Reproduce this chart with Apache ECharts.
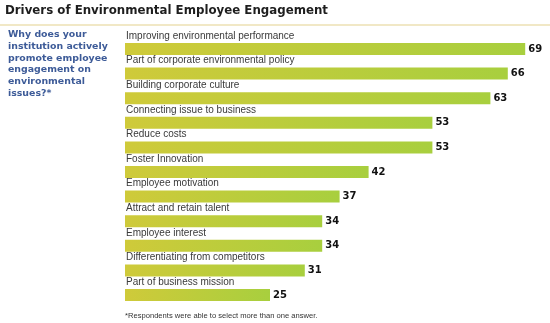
<!DOCTYPE html>
<html><head><meta charset="utf-8">
<script src="https://cdn.jsdelivr.net/npm/echarts@6/dist/echarts.min.js"></script>
<style>html,body{margin:0;padding:0;background:#fff}#c{width:550px;height:323px}</style>
</head><body><div id="c"></div>
<script>
const categories = [
  "Improving environmental performance",
  "Part of corporate environmental policy",
  "Building corporate culture",
  "Connecting issue to business",
  "Reduce costs",
  "Foster Innovation",
  "Employee motivation",
  "Attract and retain talent",
  "Employee interest",
  "Differentiating from competitors",
  "Part of business mission"
];
const values = [69, 66, 63, 53, 53, 42, 37, 34, 34, 31, 25];
const titleText = "Drivers of Environmental Employee Engagement";
const questionText = "Why does your\ninstitution actively\npromote employee\nengagement on\nenvironmental\nissues?*";
const footnoteText = "*Respondents were able to select more than one answer.";

const chart = echarts.init(document.getElementById('c'));
chart.setOption({
  animation: false,
  backgroundColor: '#fff',
  grid: {left: 125, right: 19, top: 36.7, bottom: 15.7, containLabel: false},
  xAxis: {type: 'value', min: 0, max: 70, show: false},
  yAxis: {type: 'category', data: categories, inverse: true, show: false},
  graphic: [
    {type: 'rect', shape: {x: 0, y: 24, width: 550, height: 2}, style: {fill: '#f1e8c6'}, silent: true},
    {type: 'text', left: 5, top: 5, style: {text: titleText, fontFamily: 'DejaVu Sans', fontWeight: 'bold', fontSize: 11.8, fill: '#1e1e1e'}},
    {type: 'text', left: 8, top: 29, style: {text: questionText, fontFamily: 'DejaVu Sans', fontWeight: 'bold', fontSize: 9.4, lineHeight: 11.7, fill: '#3d5b98'}},
    {type: 'text', left: 125, top: 312, style: {text: footnoteText, fontFamily: 'Liberation Sans', fontSize: 7.6, fill: '#333'}}
  ],
  series: [
    {
      type: 'bar', data: values, barWidth: 12, barGap: '-100%',
      itemStyle: {color: new echarts.graphic.LinearGradient(0, 0, 1, 0, [
        {offset: 0, color: '#cfca3a'}, {offset: 1, color: '#a8cf3e'}
      ])},
      label: {show: true, position: 'right', distance: 3, color: '#111',
        fontFamily: 'DejaVu Sans', fontWeight: 'bold', fontSize: 10}
    },
    {
      type: 'bar', data: values, barWidth: 12, barGap: '-100%',
      itemStyle: {color: 'rgba(0,0,0,0)'}, silent: true,
      label: {show: true, position: [1, -2], align: 'left', verticalAlign: 'bottom',
        formatter: p => p.name, color: '#3a3a3a', fontFamily: 'Liberation Sans', fontSize: 10}
    }
  ]
});
</script></body></html>
